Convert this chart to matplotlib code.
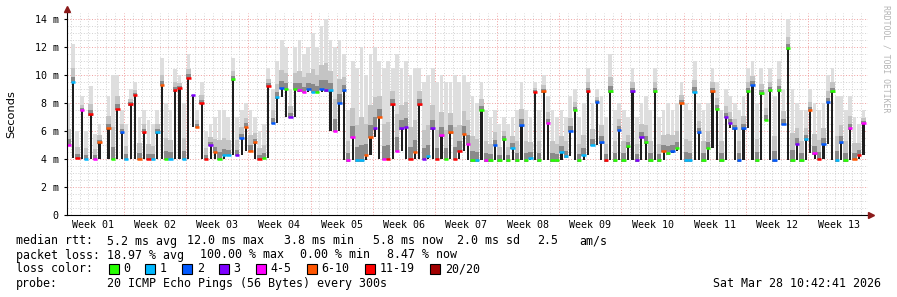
import numpy as np
import matplotlib
matplotlib.use("Agg")
import matplotlib.pyplot as plt
from matplotlib.patches import Rectangle

# ---------------- data ----------------
nan = np.nan
# median RTT (ms), 2 samples per day, first sample at day 0.75
median = [5.0, 9.5, 4.1, 7.5, 4.0, 7.2, 4.0, 5.2, nan, 6.2,
          4.0, 7.6, 5.9, 4.0, 7.9, 8.6, 4.0, 5.9, 4.0, 4.0,
          5.9, 9.3, 4.0, 4.0, 8.9, 9.1, 4.0, 9.8, 8.6, 6.3,
          8.0, 4.0, 5.0, 4.5, 4.0, 4.3, 4.3, 9.7, 4.3, 5.5,
          6.3, 4.6, 5.2, 4.0, 4.1, 9.25, 6.6, 8.4, 9.1, 9.0,
          7.0, 9.0, 8.9, 8.8, 9.0, 8.8, 8.8, 9.0, 8.9, 8.9,
          6.0, 8.0, 8.9, 3.9, 5.6, 3.9, 3.9, 4.3, 5.6, 6.2,
          7.0, 4.0, 4.0, 7.9, 4.6, 6.2, 6.3, 4.0, 4.5, 7.9,
          4.0, 4.2, 6.2, 4.0, 5.7, 4.0, 5.9, 4.0, 4.6, 5.8,
          5.1, 3.9, 3.9, 7.5, 3.9, 3.9, 5.0, 3.9, 5.4, 3.9,
          4.8, 3.9, 6.4, 3.9, 4.1, 8.8, 3.9, 8.85, 6.6, 3.9,
          3.9, 4.5, 4.2, 6.0, 7.5, 3.9, 4.3, 8.85, 5.0, 8.1,
          5.2, 3.9, 8.85, 3.9, 6.1, 3.9, 4.9, 8.85, 3.9, 5.6,
          5.2, 3.9, 8.85, 3.9, 4.6, 4.4, 4.6, 4.8, 8.0, 3.9,
          3.9, 8.8, 5.9, 3.9, 4.8, 8.85, 7.6, 3.9, 7.0, 6.6,
          6.2, 3.9, 6.2, 8.85, 9.3, 3.9, 8.7, 6.8, 8.9, 3.9,
          8.9, 6.5, 11.9, 3.9, 5.1, 3.9, 5.4, 7.5, 4.4, 4.0,
          5.1, 8.1, 8.85, 3.9, 5.2, 3.9, 6.2, 4.0, 4.3, 6.6]

# top of the smoke (slowest ping, ms)
smoke_hi = [8.0, 12.2, 6.0, 8.5, 6.0, 9.2, 5.8, 6.5, nan, 8.5,
            10.0, 10.0, 7.5, 6.5, 9.0, 9.5, 7.0, 7.5, 6.8, 6.5,
            7.5, 11.2, 8.0, 7.5, 10.4, 10.0, 8.0, 11.5, 8.5, 7.5,
            9.5, 6.0, 6.5, 7.0, 7.5, 7.5, 7.0, 11.2, 7.0, 7.5,
            8.0, 7.5, 7.0, 6.0, 6.5, 10.5, 9.0, 11.0, 12.5, 12.0,
            9.0, 12.0, 12.5, 11.5, 12.0, 13.0, 12.0, 13.5, 14.0, 12.5,
            12.0, 12.5, 11.5, 7.5, 11.0, 10.5, 12.0, 10.0, 11.5, 12.0,
            11.0, 10.5, 11.0, 10.5, 11.5, 10.5, 11.0, 10.0, 10.5, 10.5,
            9.5, 10.0, 10.5, 9.5, 10.0, 9.5, 9.5, 10.0, 9.5, 10.0,
            9.5, 8.5, 8.0, 9.5, 7.5, 7.0, 7.5, 6.5, 7.0, 6.5,
            7.0, 7.5, 9.5, 7.5, 7.0, 9.5, 7.5, 10.0, 8.5, 7.5,
            7.0, 7.5, 7.0, 8.5, 9.0, 7.0, 8.0, 10.5, 8.0, 9.0,
            8.5, 7.0, 11.5, 7.5, 8.0, 7.5, 7.0, 10.5, 7.0, 8.0,
            8.5, 7.5, 10.5, 7.0, 7.5, 8.0, 7.5, 8.0, 9.5, 8.0,
            7.5, 11.0, 8.0, 7.5, 8.0, 10.5, 9.5, 7.5, 9.0, 8.5,
            8.0, 7.5, 8.5, 10.5, 11.0, 8.0, 10.5, 9.0, 10.5, 8.5,
            11.0, 9.0, 14.0, 9.0, 8.0, 7.5, 7.5, 9.0, 8.0, 7.5,
            8.0, 10.0, 10.5, 8.5, 8.5, 7.5, 8.5, 7.0, 6.5, 7.5]

# loss class per sample (index into loss_labels)
loss = [4, 1, 6, 4, 1, 6, 4, 5, 0, 5,
        0, 6, 2, 1, 6, 6, 5, 6, 6, 1,
        1, 5, 0, 1, 6, 6, 1, 6, 3, 5,
        6, 6, 3, 5, 0, 1, 1, 0, 3, 2,
        5, 5, 5, 6, 0, 6, 2, 1, 2, 0,
        3, 0, 4, 4, 2, 1, 0, 2, 3, 1,
        4, 2, 2, 4, 4, 1, 1, 5, 5, 3,
        5, 4, 6, 6, 4, 3, 3, 6, 5, 6,
        3, 1, 3, 6, 4, 0, 5, 6, 6, 5,
        4, 0, 1, 0, 4, 0, 2, 0, 0, 0,
        1, 0, 2, 0, 1, 6, 0, 5, 4, 0,
        0, 1, 1, 2, 0, 0, 1, 6, 1, 2,
        2, 6, 0, 0, 2, 0, 0, 3, 3, 3,
        0, 0, 0, 0, 5, 0, 2, 0, 5, 1,
        1, 1, 2, 0, 0, 5, 0, 0, 3, 3,
        2, 2, 2, 0, 2, 0, 0, 0, 0, 2,
        0, 2, 0, 0, 3, 0, 1, 5, 4, 6,
        2, 2, 0, 1, 2, 0, 4, 5, 6, 4]

loss_labels = ["0", "1", "2", "3", "4-5", "6-10", "11-19", "20/20"]
loss_colors = ["#26ff00", "#00b8ff", "#0059ff", "#7e00ff",
               "#ff00ff", "#ff5500", "#ff0000", "#a10000"]

week_labels = ["Week %02d" % k for k in range(1, 14)]
y_ticks = [0, 2, 4, 6, 8, 10, 12, 14]
y_tick_labels = ["0"] + ["%d m" % v for v in y_ticks[1:]]

stats_rtt = ["median rtt:", "5.2 ms avg", "12.0 ms max", "3.8 ms min",
             "5.8 ms now", "2.0 ms sd", "2.5", "am/s"]
stats_loss = ["packet loss:", "18.97 % avg", "100.00 % max",
              "0.00 % min", "8.47 % now"]
probe_text = "20 ICMP Echo Pings (56 Bytes) every 300s"
stamp = "Sat Mar 28 10:42:41 2026"

# ---------------- figure ----------------
W, H = 897, 297
fig = plt.figure(figsize=(W / 100, H / 100), dpi=100)
fig.patch.set_facecolor("white")

def fx(px):
    return px / W

def fy(py):
    return 1 - py / H

ax_l, ax_r, ax_t, ax_b = 67, 868, 13, 215
ax = fig.add_axes([fx(ax_l), fy(ax_b), (ax_r - ax_l) / W, (ax_b - ax_t) / H])
ax.set_facecolor("white")

px_per_day = 62.18 / 7
day0_px = 61.8
x0 = (ax_l - day0_px) / px_per_day
x1 = (ax_r - day0_px) / px_per_day
ax.set_xlim(x0, x1)
ax.set_ylim(0, (ax_b - ax_t) / 14.0)

med = np.array(median, dtype=float)
hi = np.array(smoke_hi, dtype=float)
ls = np.array(loss)
n = len(med)
xs = 0.75 + 0.5 * np.arange(n)
step = 0.5

# grid
mono = "DejaVu Sans Mono"
dots = (0, (1.0, 1.8))
for d in range(0, 92):
    if d % 7 == 0:
        continue
    ax.axvline(d, color="#d2d2d2", lw=0.7, ls=dots, zorder=0)
for v in np.arange(0.5, 14.5, 0.5):
    if abs(v - round(v / 2) * 2) < 1e-6:
        continue
    ax.axhline(v, color="#d2d2d2", lw=0.7, ls=dots, zorder=0)
for d in range(7, 91, 7):
    ax.axvline(d, color="#f0a0a0", lw=0.7, ls=dots, zorder=0.5)
for v in y_ticks[1:]:
    ax.axhline(v, color="#f0a0a0", lw=0.7, ls=dots, zorder=0.5)

# smoke
valid = ~np.isnan(med)
lo = med - 0.1
span = hi - med
ax.bar(xs[valid], (hi - lo)[valid], bottom=lo[valid], width=0.42,
       color="#dedede", linewidth=0, zorder=1)
mid_top = med + 0.38 * span
ax.bar(xs[valid], (mid_top - lo)[valid], bottom=lo[valid], width=step,
       color="#c4c4c4", linewidth=0, zorder=1.1)
dark_top = med + 0.14 * span
ax.bar(xs[valid], (dark_top - lo)[valid], bottom=lo[valid], width=step,
       color="#8a8a8a", linewidth=0, zorder=1.2)

# dark vertical connections of the median line
for i in range(n):
    if not valid[i]:
        continue
    nb = [med[i]]
    if i > 0 and valid[i - 1]:
        nb.append(med[i - 1])
    if i < n - 1 and valid[i + 1]:
        nb.append(med[i + 1])
    base = min(nb)
    if med[i] - base > 0.05:
        ax.bar(xs[i], med[i] - base, bottom=base, width=0.24,
               color="#1e1e1e", linewidth=0, zorder=2)

# coloured median segments
for i in range(n):
    if not valid[i]:
        continue
    ax.plot([xs[i] - step / 2, xs[i] + step / 2], [med[i], med[i]],
            color=loss_colors[ls[i]], lw=1.8, solid_capstyle="butt", zorder=3)

# axes styling
for s in ["top", "right"]:
    ax.spines[s].set_visible(False)
for s in ["left", "bottom"]:
    ax.spines[s].set_color("black")
    ax.spines[s].set_linewidth(0.8)
    ax.spines[s].set_zorder(5)

ax.set_yticks(y_ticks)
ax.set_yticklabels(y_tick_labels, fontfamily=mono, fontsize=7.2)
ax.tick_params(axis="y", length=2, width=0.8, pad=4, color="black")
ax.set_xticks([3.5 + 7 * k for k in range(13)])
ax.set_xticklabels(week_labels, fontfamily=mono, fontsize=7.2)
ax.tick_params(axis="x", length=0, pad=3.5)

# arrows
arrow_col = "#8b1a1a"
ax.plot([x0], [(ax_b - 9) / 14.0], marker="^", ms=4, color=arrow_col,
        clip_on=False, zorder=6)
ax.plot([(871 - day0_px) / px_per_day], [0], marker=">", ms=4, color=arrow_col,
        clip_on=False, zorder=6)

fig.text(fx(11), fy(114), "Seconds", rotation=90, ha="center", va="center",
         fontsize=8.2, family="DejaVu Sans")

fig.text(fx(886), fy(5), "RRDTOOL / TOBI OETIKER", rotation=270,
         ha="center", va="top", fontsize=5.9, family=mono, color="#b4b4b4")

# legend / stats
fs = 8.4
rtt_x = [16, 107.3, 186.7, 284, 373, 457, 536.7, 579.3]
for t, x in zip(stats_rtt, rtt_x):
    fig.text(fx(x), fy(241), t, family=mono, fontsize=fs, va="center")
loss_x = [16, 107.3, 200, 300, 386.7]
for t, x in zip(stats_loss, loss_x):
    fig.text(fx(x), fy(255), t, family=mono, fontsize=fs, va="center")
fig.text(fx(16), fy(269), "loss color:", family=mono, fontsize=fs, va="center")
lab_x = [123.3, 160, 196.7, 233.3, 270.7, 321.7, 380, 445]
for lab, col, x in zip(loss_labels, loss_colors, lab_x):
    fig.patches.append(Rectangle((fx(x - 14.7), fy(274)), 10 / W, 10 / H,
                                 transform=fig.transFigure, facecolor=col,
                                 edgecolor="black", linewidth=0.8))
    fig.text(fx(x), fy(269), lab, family=mono, fontsize=fs, va="center")
fig.text(fx(16), fy(283.5), "probe:", family=mono, fontsize=fs, va="center")
fig.text(fx(107.3), fy(283.5), probe_text, family=mono, fontsize=fs, va="center")
fig.text(fx(713.3), fy(283.5), stamp, family=mono, fontsize=fs, va="center")

fig.savefig("out.png", dpi=100, facecolor="white")
